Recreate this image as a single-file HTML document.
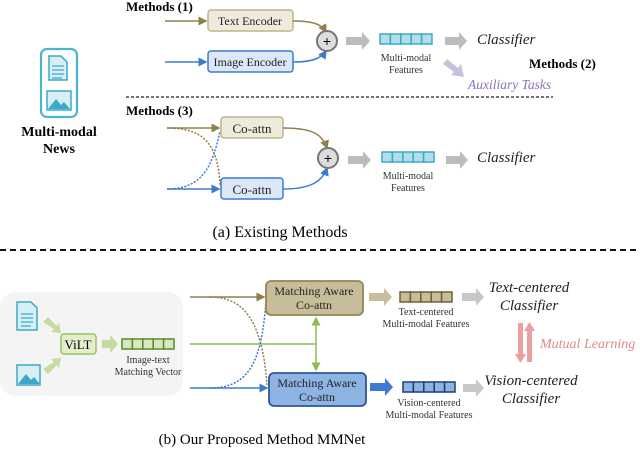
<!DOCTYPE html>
<html><head><meta charset="utf-8"><style>
body{margin:0;background:#fff}
svg{display:block;font-family:"Liberation Serif",serif}
</style></head><body>
<svg width="640" height="454" viewBox="0 0 640 454" xmlns="http://www.w3.org/2000/svg">
<defs>
<marker id="ao" markerWidth="6" markerHeight="6" refX="5" refY="3" orient="auto"><path d="M0,0L6,3L0,6z" fill="#8f8048"/></marker>
<marker id="ab" markerWidth="6" markerHeight="6" refX="5" refY="3" orient="auto"><path d="M0,0L6,3L0,6z" fill="#3d7ad0"/></marker>
<marker id="ag" markerWidth="6" markerHeight="6" refX="5" refY="3" orient="auto"><path d="M0,0L6,3L0,6z" fill="#8fbb50"/></marker>
<g id="fa"><rect x="0" y="0" width="10.4" height="10" fill="#b3dde8" stroke="#3aaac8" stroke-width="1.5"/></g>
</defs>
<rect x="41" y="49" width="36" height="68" rx="6" fill="none" stroke="#4bb5cf" stroke-width="2.2"/>
<path d="M49,56h12l6,6v18h-18z" fill="#d8eef5" stroke="#3aaac8" stroke-width="1.5"/>
<path d="M52,66h12M52,70h12M52,74h12M52,78h10" stroke="#3aaac8" stroke-width="1.3"/>
<rect x="47" y="91" width="24" height="19" fill="#d8eef5" stroke="#3aaac8" stroke-width="1.5"/>
<path d="M48,109l8,-10l5,6l3,-3l6,7z" fill="#3aaac8"/>
<text x="59" y="136" font-size="14" font-weight="bold" text-anchor="middle">Multi-modal</text>
<text x="59" y="153" font-size="14" font-weight="bold" text-anchor="middle">News</text>

<text x="126" y="11" font-size="13" font-weight="bold">Methods (1)</text>
<line x1="165" y1="21" x2="206" y2="21" stroke="#8f8048" stroke-width="1.5" marker-end="url(#ao)"/>
<line x1="165" y1="62" x2="206" y2="62" stroke="#3d7ad0" stroke-width="1.5" marker-end="url(#ab)"/>
<rect x="208" y="10" width="85" height="21" rx="3" fill="#eeebdc" stroke="#c0b48a" stroke-width="1.5"/>
<text x="250" y="25" font-size="12" text-anchor="middle" fill="#222">Text Encoder</text>
<rect x="208" y="51" width="85" height="21" rx="3" fill="#dce8f7" stroke="#3d7ad0" stroke-width="1.5"/>
<text x="250" y="66" font-size="12" text-anchor="middle" fill="#222">Image Encoder</text>
<path d="M293,21C315,21 322,25 326,32" fill="none" stroke="#8f8048" stroke-width="1.5" marker-end="url(#ao)"/>
<path d="M293,62C315,62 322,57 326,51" fill="none" stroke="#3d7ad0" stroke-width="1.5" marker-end="url(#ab)"/>
<circle cx="327" cy="41" r="10" fill="#ddd" stroke="#777" stroke-width="2"/>
<text x="327" y="46" font-size="14" text-anchor="middle" font-family="Liberation Sans,sans-serif">+</text>
<path d="M346,37h16v-5l8,9l-8,9v-5h-16z" fill="#bcbcbc"/>
<g transform="translate(380,34)"><use href="#fa"/><use href="#fa" x="10.4"/><use href="#fa" x="20.8"/><use href="#fa" x="31.2"/><use href="#fa" x="41.6"/></g>
<text x="406" y="61" font-size="10" text-anchor="middle" fill="#333">Multi-modal</text>
<text x="406" y="73" font-size="10" text-anchor="middle" fill="#333">Features</text>
<path d="M445,37h14v-5l8,9l-8,9v-5h-14z" fill="#bcbcbc"/>
<text x="477" y="44" font-size="15" font-style="italic" fill="#222">Classifier</text>
<path d="M443,64l4,-5l11,9l3,-4l3,13l-13,-2l3,-3z" fill="#c8c0e0"/>
<text x="529" y="68" font-size="13" font-weight="bold">Methods (2)</text>
<text x="468" y="89" font-size="13.5" font-style="italic" fill="#8a70b8">Auxiliary Tasks</text>
<line x1="126" y1="97" x2="553" y2="97" stroke="#222" stroke-width="1.3" stroke-dasharray="3,2"/>

<text x="126" y="115" font-size="13" font-weight="bold">Methods (3)</text>
<line x1="167" y1="128" x2="219" y2="128" stroke="#8f8048" stroke-width="1.5" marker-end="url(#ao)"/>
<line x1="167" y1="189" x2="219" y2="189" stroke="#3d7ad0" stroke-width="1.5" marker-end="url(#ab)"/>
<path d="M167,128C200,128 218,140 220,185" fill="none" stroke="#8f8048" stroke-width="1.5" stroke-dasharray="2,1.5"/>
<path d="M167,189C200,189 212,170 220,131" fill="none" stroke="#3d7ad0" stroke-width="1.5" stroke-dasharray="2,1.5"/>
<rect x="221" y="117" width="62" height="21" rx="3" fill="#eeebdc" stroke="#c0b48a" stroke-width="1.5"/>
<text x="252" y="133" font-size="13" text-anchor="middle" fill="#222">Co-attn</text>
<rect x="221" y="178" width="62" height="21" rx="3" fill="#dce8f7" stroke="#3d7ad0" stroke-width="1.5"/>
<text x="252" y="194" font-size="13" text-anchor="middle" fill="#222">Co-attn</text>
<path d="M283,128C310,128 322,133 327,148" fill="none" stroke="#8f8048" stroke-width="1.5" marker-end="url(#ao)"/>
<path d="M283,189C310,189 322,182 327,168" fill="none" stroke="#3d7ad0" stroke-width="1.5" marker-end="url(#ab)"/>
<circle cx="328" cy="158" r="10" fill="#ddd" stroke="#777" stroke-width="2"/>
<text x="328" y="163" font-size="14" text-anchor="middle" font-family="Liberation Sans,sans-serif">+</text>
<path d="M348,156h15v-5l8,9l-8,9v-5h-15z" fill="#bcbcbc"/>
<g transform="translate(382,152)"><use href="#fa"/><use href="#fa" x="10.4"/><use href="#fa" x="20.8"/><use href="#fa" x="31.2"/><use href="#fa" x="41.6"/></g>
<text x="408" y="179" font-size="10" text-anchor="middle" fill="#333">Multi-modal</text>
<text x="408" y="191" font-size="10" text-anchor="middle" fill="#333">Features</text>
<path d="M446,156h14v-5l8,9l-8,9v-5h-14z" fill="#bcbcbc"/>
<text x="477" y="162" font-size="15" font-style="italic" fill="#222">Classifier</text>
<text x="280" y="237" font-size="16" text-anchor="middle">(a) Existing Methods</text>
<line x1="0" y1="250" x2="640" y2="250" stroke="#111" stroke-width="2" stroke-dasharray="6,4"/>

<rect x="0" y="292" width="183" height="104" rx="16" fill="#f4f4f4"/>
<path d="M17,302h14l6,6v22h-20z" fill="#d8eef5" stroke="#3aaac8" stroke-width="1.5"/>
<path d="M21,314h12M21,318h12M21,322h12M21,326h10" stroke="#3aaac8" stroke-width="1.3"/>
<rect x="17" y="365" width="23" height="20" fill="#d8eef5" stroke="#3aaac8" stroke-width="1.5"/>
<path d="M18,384l8,-10l5,6l3,-3l6,7z" fill="#3aaac8"/>
<path d="M43,322l5,-5l9,9l2,-3l2,10l-10,-1l3,-3z" fill="#c5dca0"/>
<path d="M43,369l5,5l9,-9l2,3l2,-10l-10,1l3,3z" fill="#c5dca0"/>
<rect x="61" y="334" width="35" height="20" rx="3" fill="#e3eecc" stroke="#9cc060" stroke-width="1.5"/>
<text x="78" y="349" font-size="13" text-anchor="middle">ViLT</text>
<path d="M102,340h8v-5l8,9l-8,9v-5h-8z" fill="#c5dca0"/>
<g transform="translate(122,339)" fill="#d8e8c0" stroke="#5a8a2a" stroke-width="1.5"><rect x="0" width="10.4" height="10"/><rect x="10.4" width="10.4" height="10"/><rect x="20.8" width="10.4" height="10"/><rect x="31.2" width="10.4" height="10"/><rect x="41.6" width="10.4" height="10"/></g>
<text x="148" y="363" font-size="10" text-anchor="middle" fill="#333">Image-text</text>
<text x="148" y="375" font-size="10" text-anchor="middle" fill="#333">Matching Vector</text>

<line x1="190" y1="297" x2="264" y2="297" stroke="#8f8048" stroke-width="1.5" marker-end="url(#ao)"/>
<line x1="190" y1="388" x2="267" y2="388" stroke="#3d7ad0" stroke-width="1.5" marker-end="url(#ab)"/>
<line x1="190" y1="344" x2="316" y2="344" stroke="#8fbb50" stroke-width="1.5"/>
<line x1="316" y1="344" x2="316" y2="318" stroke="#8fbb50" stroke-width="1.5" marker-end="url(#ag)"/>
<line x1="316" y1="344" x2="316" y2="370" stroke="#8fbb50" stroke-width="1.5" marker-end="url(#ag)"/>
<path d="M210,297C240,297 262,315 267,385" fill="none" stroke="#8f8048" stroke-width="1.5" stroke-dasharray="2,1.5"/>
<path d="M210,388C250,388 262,360 266,300" fill="none" stroke="#3d7ad0" stroke-width="1.5" stroke-dasharray="2,1.5"/>
<rect x="266" y="281" width="97" height="34" rx="5" fill="#c7bd9a" stroke="#938555" stroke-width="1.8"/>
<text x="314" y="295" font-size="12" text-anchor="middle" fill="#222">Matching Aware</text>
<text x="314" y="309" font-size="12" text-anchor="middle" fill="#222">Co-attn</text>
<rect x="269" y="373" width="97" height="33" rx="5" fill="#8db4e2" stroke="#2f5597" stroke-width="1.8"/>
<text x="317" y="387" font-size="12" text-anchor="middle" fill="#222">Matching Aware</text>
<text x="317" y="401" font-size="12" text-anchor="middle" fill="#222">Co-attn</text>

<path d="M369,293h15v-5l8,9l-8,9v-5h-15z" fill="#c7bd9a"/>
<g transform="translate(400,292)" fill="#c7bd9a" stroke="#6f6232" stroke-width="1.5"><rect x="0" width="10.4" height="10"/><rect x="10.4" width="10.4" height="10"/><rect x="20.8" width="10.4" height="10"/><rect x="31.2" width="10.4" height="10"/><rect x="41.6" width="10.4" height="10"/></g>
<text x="426" y="315" font-size="10" text-anchor="middle" fill="#333">Text-centered</text>
<text x="426" y="327" font-size="10" text-anchor="middle" fill="#333">Multi-modal Features</text>
<path d="M462,293h14v-5l8,9l-8,9v-5h-14z" fill="#c8c8c8"/>
<text x="529" y="292" font-size="15" font-style="italic" text-anchor="middle" fill="#222">Text-centered</text>
<text x="529" y="310" font-size="15" font-style="italic" text-anchor="middle" fill="#222">Classifier</text>
<path d="M518,323h5v31h3l-5.5,9l-5.5,-9h3z" fill="#e8a0a0"/>
<path d="M527,362h5v-31h3l-5.5,-9l-5.5,9h3z" fill="#e8a0a0"/>
<text x="540" y="348" font-size="14" font-style="italic" fill="#e08888">Mutual Learning</text>
<path d="M370,383h15v-5l8,9l-8,9v-5h-15z" fill="#3d7ad0"/>
<g transform="translate(403,382)" fill="#8db4e2" stroke="#1f3f7a" stroke-width="1.5"><rect x="0" width="10.4" height="10"/><rect x="10.4" width="10.4" height="10"/><rect x="20.8" width="10.4" height="10"/><rect x="31.2" width="10.4" height="10"/><rect x="41.6" width="10.4" height="10"/></g>
<text x="429" y="406" font-size="10" text-anchor="middle" fill="#333">Vision-centered</text>
<text x="429" y="418" font-size="10" text-anchor="middle" fill="#333">Multi-modal Features</text>
<path d="M463,384h13v-5l8,9l-8,9v-5h-13z" fill="#c8c8c8"/>
<text x="531" y="385" font-size="15" font-style="italic" text-anchor="middle" fill="#222">Vision-centered</text>
<text x="531" y="403" font-size="15" font-style="italic" text-anchor="middle" fill="#222">Classifier</text>
<text x="262" y="444" font-size="15" text-anchor="middle">(b) Our Proposed Method MMNet</text>
</svg>
</body></html>
